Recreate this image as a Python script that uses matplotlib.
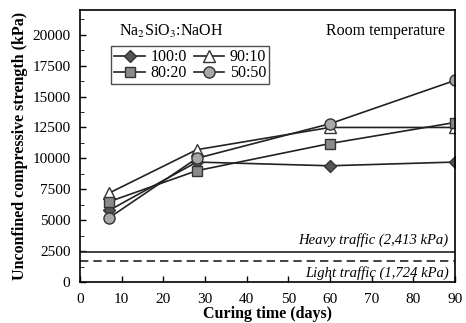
import numpy as np
import matplotlib.pyplot as plt
from matplotlib.ticker import MultipleLocator

plt.rcParams['font.family'] = ['Liberation Serif', 'DejaVu Serif']
plt.rcParams['mathtext.fontset'] = 'stix'

days = [7, 28, 60, 90]
s100_0 = [5800, 9700, 9400, 9700]
s90_10 = [7200, 10700, 12500, 12500]
s80_20 = [6500, 9000, 11200, 12900]
s50_50 = [5200, 10000, 12800, 16300]
heavy = 2413
light = 1724

fig = plt.figure(figsize=(4.66, 3.23), dpi=100)
ax = fig.add_axes([0.172, 0.127, 0.804, 0.842])

kw = dict(color='#222222', lw=1.2, markeredgecolor='#333333')
ax.plot(days, s100_0, marker='D', markerfacecolor='#555555', markersize=6.5, label='100:0', **kw)
ax.plot(days, s90_10, marker='^', markerfacecolor='white', markersize=8, label='90:10', **kw)
ax.plot(days, s80_20, marker='s', markerfacecolor='#8a8a8a', markersize=7.5, label='80:20', **kw)
ax.plot(days, s50_50, marker='o', markerfacecolor='#a8a8a8', markersize=8, label='50:50', **kw)

ax.axhline(heavy, color='#222222', lw=1.2)
ax.axhline(light, color='#222222', lw=1.2, ls=(0, (5, 3)))
ax.text(88.5, heavy + 450, 'Heavy traffic (2,413 kPa)', ha='right', va='bottom',
        style='italic', fontsize=10.5)
ax.text(88.5, light - 450, 'Light traffic (1,724 kPa)', ha='right', va='top',
        style='italic', fontsize=10.5)

ax.set_xlim(0, 90)
ax.set_ylim(0, 22000)
ax.xaxis.set_major_locator(MultipleLocator(10))
ax.yaxis.set_minor_locator(MultipleLocator(1250))
ax.set_yticks(np.arange(0, 20001, 2500))
ax.tick_params(direction='in', labelsize=11, length=4, width=1)
ax.tick_params(axis='x', pad=8)
ax.tick_params(axis='y', pad=7)
ax.tick_params(which='minor', direction='in', length=3)
for s in ax.spines.values():
    s.set_linewidth(1.2)

ax.set_xlabel('Curing time (days)', fontweight='bold', fontsize=11.5, labelpad=0)
ax.set_ylabel('Unconfined compressive strength (kPa)', fontweight='bold', fontsize=11.5, labelpad=3)

ax.text(0.105, 0.922, r'Na$_2$SiO$_3$:NaOH', transform=ax.transAxes, ha='left', va='center', fontsize=11.5)
ax.text(0.975, 0.922, 'Room temperature', transform=ax.transAxes, ha='right', va='center', fontsize=11.5)

handles, labels = ax.get_legend_handles_labels()
order = [0, 2, 1, 3]
leg = ax.legend([handles[i] for i in order], [labels[i] for i in order], ncol=2,
                loc='upper left', bbox_to_anchor=(0.07, 0.885), fontsize=11.5,
                frameon=True, fancybox=False, edgecolor='#222222', handlelength=1.9,
                handletextpad=0.35, columnspacing=0.45, labelspacing=0.0, borderpad=0.2,
                borderaxespad=0.3)
leg.get_frame().set_linewidth(1.0)

fig.savefig('out.png', dpi=100)
